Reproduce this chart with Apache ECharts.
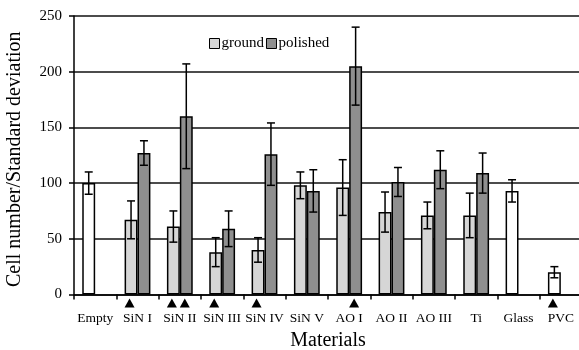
<!DOCTYPE html>
<html>
<head>
<meta charset="utf-8">
<script src="https://cdn.jsdelivr.net/npm/echarts@6/dist/echarts.min.js"></script>
<style>html,body{margin:0;padding:0;background:#fff;}#c{width:579px;height:350px;}</style>
</head>
<body>
<div id="c"></div>
<script>
var categories = ['Empty','SiN I','SiN II','SiN III','SiN IV','SiN V','AO I','AO II','AO III','Ti','Glass','PVC'];
var groundMean = [100, 67, 61, 38, 40, 98, 96, 74, 71, 71, 93, 20];
var groundSD   = [10, 17, 14, 13, 11, 12, 25, 18, 12, 20, 10, 5];
var polishedMean = [null, 127, 160, 59, 126, 93, 205, 101, 112, 109, null, null];
var polishedSD   = [null, 11, 47, 16, 28, 19, 35, 13, 17, 18, null, null];
var isControl = [true, false, false, false, false, false, false, false, false, false, true, true];
var markGround   = [false, true, true, true, true, false, false, false, false, false, false, true];
var markPolished = [false, false, true, false, false, false, true, false, false, false, false, false];
var yTicks = [0, 50, 100, 150, 200, 250];

var FONT = '"Liberation Serif", "Times New Roman", serif';
var GAP = 0.39;
var groundColor = '#d6d6d6';
var polishedColor = '#8f8f8f';

var groundData = groundMean.map(function (v, i) {
  return { value: v, itemStyle: { color: isControl[i] ? '#ffffff' : groundColor } };
});
var errData = [];
groundMean.forEach(function (v, i) { if (v != null) errData.push([i, v, groundSD[i], -1]); });
polishedMean.forEach(function (v, i) { if (v != null) errData.push([i, v, polishedSD[i], 1]); });
var markData = [];
markGround.forEach(function (m, i) { if (m) markData.push([i, 0, -1]); });
markPolished.forEach(function (m, i) { if (m) markData.push([i, 0, 1]); });

function barHalf(api) { return api.size([1, 0])[0] * (1 - GAP) / 4; }

var chart = echarts.init(document.getElementById('c'), null, { renderer: 'canvas' });
chart.setOption({
  animation: false,
  backgroundColor: '#fff',
  textStyle: { fontFamily: FONT, color: '#000' },
  grid: { left: 74, right: -3, top: 16, bottom: 55.5, containLabel: false, outerBoundsMode: 'none' },
  legend: {
    data: ['ground', 'polished'],
    left: 204, top: 31,
    icon: 'rect', itemWidth: 10, itemHeight: 10, itemGap: 2,
    textStyle: { fontFamily: FONT, fontSize: 15, color: '#000', padding: [0, 0, 0, -3] },
    itemStyle: { borderColor: '#000', borderWidth: 1 }
  },
  xAxis: {
    type: 'category', data: categories,
    name: 'Materials', nameLocation: 'middle', nameGap: 30,
    nameTextStyle: { fontFamily: FONT, fontSize: 20, color: '#000' },
    axisLine: { lineStyle: { color: '#000', width: 1.5 } },
    axisTick: { show: true, length: 5, lineStyle: { color: '#000', width: 1.5 } },
    axisLabel: { fontFamily: FONT, fontSize: 13.5, color: '#000', margin: 17, interval: 0 }
  },
  yAxis: {
    type: 'value', min: 0, max: 250, interval: 50,
    name: 'Cell number/Standard deviation', nameLocation: 'middle', nameGap: 49,
    nameTextStyle: { fontFamily: FONT, fontSize: 20, color: '#000', padding: [0, 8, 0, 0] },
    axisLine: { show: true, lineStyle: { color: '#000', width: 1.5 } },
    axisTick: { show: true, length: 5, lineStyle: { color: '#000', width: 1.5 } },
    axisLabel: { fontFamily: FONT, fontSize: 15, color: '#000', margin: 12,
      formatter: function (v) { return yTicks.indexOf(v) >= 0 ? String(v) : ''; } },
    splitLine: { show: true, lineStyle: { color: '#111', width: 1.5 } }
  },
  series: [
    { name: 'ground', type: 'bar', data: groundData, barGap: '0%', barCategoryGap: (GAP * 100) + '%',
      itemStyle: { color: groundColor, borderColor: '#000', borderWidth: 1.5 } },
    { name: 'polished', type: 'bar', data: polishedMean, barGap: '0%', barCategoryGap: (GAP * 100) + '%',
      itemStyle: { color: polishedColor, borderColor: '#000', borderWidth: 1.5 } },
    { type: 'custom', name: 'err', data: errData, z: 10, clip: false,
      renderItem: function (params, api) {
        var i = api.value(0), m = api.value(1), s = api.value(2), side = api.value(3);
        var hb = barHalf(api);
        var top = api.coord([i, m + s]);
        var bot = api.coord([i, m - s]);
        var x = top[0] + side * hb;
        var cw = 4;
        var st = { stroke: '#000', lineWidth: 1.5 };
        return { type: 'group', children: [
          { type: 'line', shape: { x1: x, y1: top[1], x2: x, y2: bot[1] }, style: st },
          { type: 'line', shape: { x1: x - cw, y1: top[1], x2: x + cw, y2: top[1] }, style: st },
          { type: 'line', shape: { x1: x - cw, y1: bot[1], x2: x + cw, y2: bot[1] }, style: st }
        ] };
      } },
    { type: 'custom', name: 'marks', data: markData, z: 10, clip: false,
      renderItem: function (params, api) {
        var i = api.value(0), side = api.value(2);
        var hb = barHalf(api);
        var p = api.coord([i, 0]);
        var x = p[0] + side * hb - 1.5;
        var y0 = p[1] + 4;
        return { type: 'polygon', shape: { points: [[x, y0], [x + 5, y0 + 9], [x - 5, y0 + 9]] },
          style: { fill: '#000' } };
      } }
  ]
});
</script>
</body>
</html>
